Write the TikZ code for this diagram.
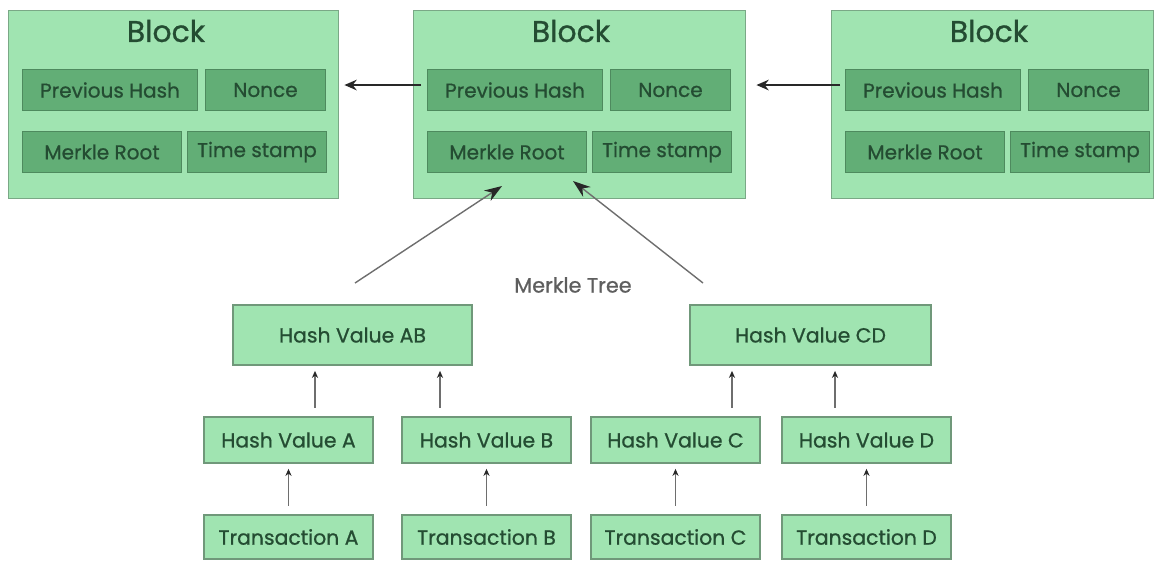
\documentclass[tikz,border=0pt]{standalone}
\usepackage{fontspec}
\setmainfont{Poppins}[FakeBold=0.8]
\usetikzlibrary{arrows.meta}

\definecolor{hellgruen}{RGB}{160,228,177}
\definecolor{blockrand}{RGB}{122,168,134}
\definecolor{feldgruen}{RGB}{98,174,118}
\definecolor{feldrand}{RGB}{78,138,94}
\definecolor{baumrand}{RGB}{112,152,122}
\definecolor{schrift}{RGB}{36,76,50}
\definecolor{liniengrau}{RGB}{110,110,110}
\definecolor{spitze}{RGB}{40,40,40}

\begin{document}
\begin{tikzpicture} [x = 0.02cm, y = -0.02cm,
        block/.style = {draw=blockrand, fill=hellgruen, line width=0.8pt,
            minimum height=3.76cm, inner sep=0, anchor=north west},
        feld/.style  = {draw=feldrand, fill=feldgruen, line width=0.6pt,
            minimum height=0.82cm, inner sep=0, anchor=north west,
            text=schrift, font=\fontsize{11.4}{13}\selectfont},
        baum/.style  = {draw=baumrand, fill=hellgruen, line width=0.7pt,
            inner sep=0, text=schrift, font=\fontsize{11.6}{13}\selectfont},
        kette/.style = {draw=spitze, line width=1.2pt, -{Stealth[length=7pt, width=6pt]}},
        wurzel/.style = {draw=liniengrau, line width=0.8pt,
            -{Stealth[length=10pt, width=7pt, color=spitze]}},
        hoch/.style  = {draw=liniengrau, line width=0.8pt,
            -{Stealth[length=4pt, width=3.5pt, color=spitze]},
            shorten <=5pt, shorten >=3pt}]
    \useasboundingbox (0, 0) rectangle (1156, 561);

    % Bloecke mit ihren Feldern
    \foreach \n/\x/\w in {L/8/330, M/413/332, R/831/322} {
        \node [block, minimum width=\w*0.02cm] (blk\n) at (\x, 10) {};
        \node [text=schrift, font=\fontsize{17}{19}\selectfont] (titel\n) at (\x+158, 31) {Block};
        \node [feld, minimum width=3.5cm]  (prev\n)  at (\x+14, 69)  {Previous Hash};
        \node [feld, minimum width=2.4cm]  (nonce\n) at (\x+197, 69) {Nonce};
        \node [feld, minimum width=3.18cm] (merk\n)  at (\x+14, 131) {Merkle Root};
        \node [feld, minimum width=2.78cm] (zeit\n)  at (\x+179, 131) {Time stamp};
    }

    % Verkettung der Bloecke
    \draw [kette, shorten <=0.12cm, shorten >=0.1cm] ([yshift=0.1cm]prevM.west) -- ([yshift=0.1cm]prevM.west -| blkL.east);
    \draw [kette, shorten <=0.1cm, shorten >=0.2cm] ([yshift=0.1cm]prevR.west) -- ([yshift=0.1cm]prevR.west -| blkM.east);

    % Merkle-Baum
    \node [text=liniengrau!85!black, font=\fontsize{11.8}{13}\selectfont] (tree) at (573, 285) {Merkle Tree};

    \node [baum, minimum width=4.78cm, minimum height=1.2cm] (hAB) at (352.5, 335) {Hash Value AB};
    \node [baum, minimum width=4.82cm, minimum height=1.2cm] (hCD) at (810.5, 335) {Hash Value CD};

    \foreach \n/\x in {A/288.5, B/486.5, C/675.5, D/866.5} {
        \node [baum, minimum width=3.38cm, minimum height=0.92cm] (h\n) at (\x, 440) {Hash Value \n};
        \node [baum, minimum width=3.38cm, minimum height=0.88cm] (t\n) at (\x, 537) {Transaction \n};
        \draw [hoch] (t\n.north) -- (h\n.south);
    }

    % Pfeile zu den Elternknoten
    \draw [hoch] ([xshift=0.53cm]hA.north) -- ([xshift=0.53cm]hA.north |- hAB.south);
    \draw [hoch] ([xshift=-0.93cm]hB.north) -- ([xshift=-0.93cm]hB.north |- hAB.south);
    \draw [hoch] ([xshift=1.13cm]hC.north) -- ([xshift=1.13cm]hC.north |- hCD.south);
    \draw [hoch] ([xshift=-0.63cm]hD.north) -- ([xshift=-0.63cm]hD.north |- hCD.south);

    % Wurzel
    \coordinate (linksfrei)  at (355, 283);
    \coordinate (rechtsfrei) at (703, 283);
    \draw [wurzel] (linksfrei)  -- ([xshift=-0.1cm, yshift=-0.26cm]merkM.south);
    \draw [wurzel] (rechtsfrei) -- ([xshift=-0.28cm, yshift=-0.16cm]merkM.south east);
\end{tikzpicture}
\end{document}
